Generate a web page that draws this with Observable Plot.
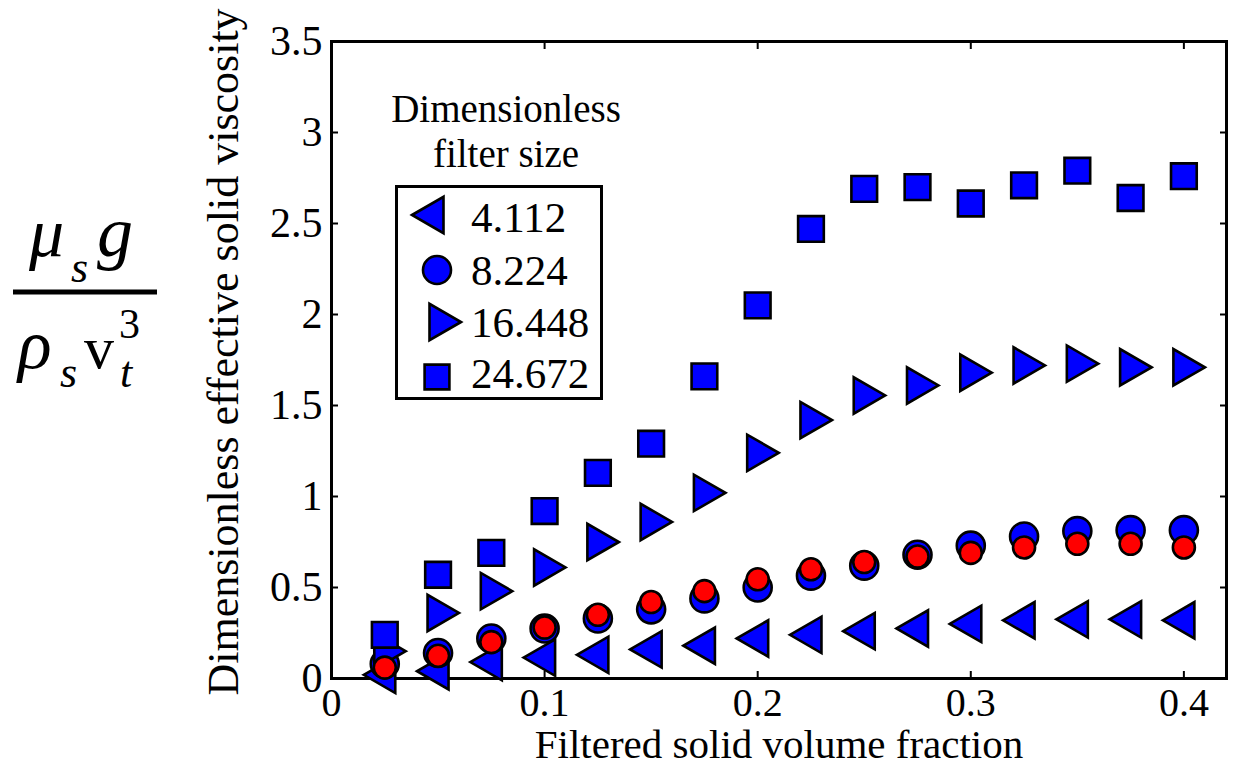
<!DOCTYPE html>
<html>
<head>
<meta charset="utf-8">
<script src="https://cdn.jsdelivr.net/npm/d3@7"></script>
<script src="https://cdn.jsdelivr.net/npm/@observablehq/plot@0.6"></script>
<style>
  html, body { margin: 0; padding: 0; background: #fff; }
  #wrap { position: relative; width: 1234px; height: 767px; overflow: hidden; font-family: "Liberation Serif", "Times New Roman", serif; }
  #chart { position: absolute; left: 0; top: 0; }
  #overlay { position: absolute; left: 0; top: 0; pointer-events: none; }
</style>
</head>
<body>
<div id="wrap">
  <div id="chart"></div>
  <svg id="overlay" width="1234" height="767"></svg>
</div>
<script>
// ---------- data ----------
const volumeFraction = [0.025, 0.05, 0.075, 0.1, 0.125, 0.15, 0.175, 0.2, 0.225, 0.25, 0.275, 0.3, 0.325, 0.35, 0.375, 0.4];
const filter4112  = [0.02, 0.04, 0.09, 0.115, 0.13, 0.16, 0.18, 0.22, 0.24, 0.26, 0.275, 0.30, 0.32, 0.325, 0.325, 0.32];
const filter8224  = [0.08, 0.14, 0.22, 0.275, 0.33, 0.38, 0.44, 0.50, 0.565, 0.62, 0.68, 0.73, 0.78, 0.81, 0.815, 0.815];
const filter16448 = [0.15, 0.36, 0.48, 0.61, 0.75, 0.86, 1.02, 1.24, 1.42, 1.555, 1.61, 1.68, 1.72, 1.73, 1.71, 1.71];
const filter24672 = [0.24, 0.57, 0.69, 0.92, 1.13, 1.29, 1.66, 2.05, 2.47, 2.69, 2.70, 2.61, 2.71, 2.79, 2.64, 2.76];
const referenceRed = [0.06, 0.125, 0.20, 0.28, 0.35, 0.42, 0.48, 0.545, 0.60, 0.64, 0.67, 0.69, 0.72, 0.74, 0.74, 0.72];

const legendLabels = ["4.112", "8.224", "16.448", "24.672"];
const xTicks = [0, 0.1, 0.2, 0.3, 0.4];
const xTickLabels = ["0", "0.1", "0.2", "0.3", "0.4"];
const yTicks = [0, 0.5, 1, 1.5, 2, 2.5, 3, 3.5];
const yTickLabels = ["0", "0.5", "1", "1.5", "2", "2.5", "3", "3.5"];
const xLabel = "Filtered solid volume fraction";
const yLabel = "Dimensionless effective solid viscosity";
const legendTitle = ["Dimensionless", "filter size"];

// ---------- tables ----------
const toRows = (ys) => volumeFraction.map((x, i) => ({x, y: ys[i]}));
const rows4112 = toRows(filter4112);
const rows8224 = toRows(filter8224);
const rows16448 = toRows(filter16448);
const rows24672 = toRows(filter24672);
const rowsRed = toRows(referenceRed);
const xFmt = (d) => xTickLabels[xTicks.indexOf(d)] ?? "";
const yFmt = (d) => yTickLabels[yTicks.indexOf(d)] ?? "";

const BLUE = "#0000ff", RED = "#ff0000";
const SW = 2.6;

const chart = Plot.plot({
  width: 1234,
  height: 767,
  marginLeft: 331,
  marginRight: 8,
  marginTop: 41,
  marginBottom: 89,
  style: {fontFamily: "'Liberation Serif', 'Times New Roman', serif", color: "#000", background: "#fff", overflow: "visible"},
  x: {domain: [0, 0.42]},
  y: {domain: [0, 3.5]},
  marks: [
    Plot.axisX({ticks: xTicks, tickSize: -7, tickPadding: 16, fontSize: 40, label: null, strokeWidth: 2, tickFormat: xFmt}),
    Plot.axisX({anchor: "top", ticks: xTicks, tickSize: -7, tickFormat: () => "", label: null, strokeWidth: 2}),
    Plot.axisY({ticks: yTicks, tickSize: -7, tickPadding: 16, fontSize: 42, label: null, strokeWidth: 2, tickFormat: yFmt}),
    Plot.axisY({anchor: "right", ticks: yTicks, tickSize: -7, tickFormat: () => "", label: null, strokeWidth: 2}),
    Plot.frame({stroke: "#000", strokeWidth: 3}),
    Plot.dot(rows4112, {x: "x", y: "y", symbol: "triangle", rotate: -90, r: 13.5, fill: BLUE, stroke: "#000", strokeWidth: SW}),
    Plot.dot(rows8224, {x: "x", y: "y", symbol: "circle", r: 14, fill: BLUE, stroke: "#000", strokeWidth: SW}),
    Plot.dot(rows16448, {x: "x", y: "y", symbol: "triangle", rotate: 90, r: 13.5, fill: BLUE, stroke: "#000", strokeWidth: SW}),
    Plot.dot(rows24672, {x: "x", y: "y", symbol: "square", r: 14.5, fill: BLUE, stroke: "#000", strokeWidth: SW}),
    Plot.dot(rowsRed, {x: "x", y: "y", symbol: "circle", r: 11, fill: RED, stroke: "#000", strokeWidth: SW}),
    Plot.text([xLabel], {frameAnchor: "bottom", textAnchor: "middle", dy: 79, fontSize: 41, fill: "#000"}),
    Plot.text([yLabel], {frameAnchor: "left", textAnchor: "middle", rotate: -90, dx: -108, dy: -8, fontSize: 44, fill: "#000"})
  ]
});
document.getElementById("chart").appendChild(chart);

// ---------- overlay: legend and left-hand fraction ----------
const ov = d3.select("#overlay");
const serif = "'Liberation Serif', 'Times New Roman', serif";

// legend title
legendTitle.forEach((t, i) => {
  ov.append("text").attr("x", 506).attr("y", 122 + i * 45).attr("text-anchor", "middle")
    .attr("font-family", serif).attr("font-size", 39).text(t);
});
// legend box
ov.append("rect").attr("x", 396.5).attr("y", 186.5).attr("width", 205).attr("height", 212)
  .attr("fill", "#fff").attr("stroke", "#000").attr("stroke-width", 3);

const legendSymbols = [
  {type: d3.symbolTriangle, rotate: -90, r: 13.5, cx: 433, cy: 215},
  {type: d3.symbolCircle, rotate: 0, r: 14, cx: 437, cy: 270},
  {type: d3.symbolTriangle, rotate: 90, r: 13.5, cx: 440, cy: 322},
  {type: d3.symbolSquare, rotate: 0, r: 14, cx: 437, cy: 377}
];
const legendBaselines = [232, 285, 337, 388];
legendSymbols.forEach((s, i) => {
  ov.append("path")
    .attr("d", d3.symbol(s.type, s.r * s.r * Math.PI)())
    .attr("transform", `translate(${s.cx},${s.cy}) rotate(${s.rotate})`)
    .attr("fill", BLUE).attr("stroke", "#000").attr("stroke-width", SW);
  ov.append("text").attr("x", 471).attr("y", legendBaselines[i])
    .attr("font-family", serif).attr("font-size", 43).text(legendLabels[i]);
});

// fraction  mu_s g / rho_s v_t^3
const frac = [
  {t: "\u03BC", x: 29, y: 256, fs: 70, it: true},
  {t: "s", x: 71, y: 282, fs: 44, it: true},
  {t: "g", x: 97, y: 256, fs: 72, it: true},
  {t: "\u03C1", x: 18, y: 368, fs: 70, it: true},
  {t: "s", x: 60, y: 387, fs: 44, it: true},
  {t: "v", x: 84, y: 368, fs: 60, it: false},
  {t: "t", x: 120, y: 387, fs: 44, it: true},
  {t: "3", x: 119, y: 338, fs: 42, it: false}
];
frac.forEach(d => {
  ov.append("text").attr("x", d.x).attr("y", d.y).attr("font-family", serif)
    .attr("font-size", d.fs).attr("font-style", d.it ? "italic" : "normal").text(d.t);
});
ov.append("rect").attr("x", 13).attr("y", 289.5).attr("width", 144).attr("height", 5).attr("fill", "#000");
</script>
</body>
</html>
